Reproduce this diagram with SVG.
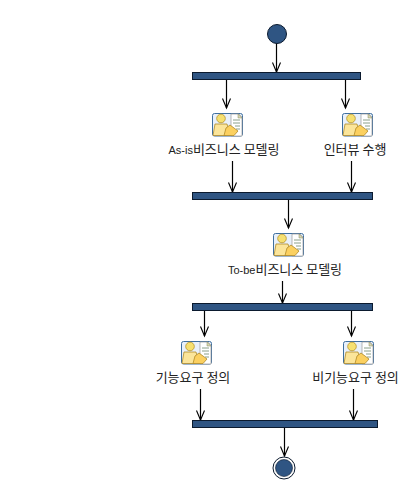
<svg xmlns="http://www.w3.org/2000/svg" width="405" height="501" viewBox="0 0 405 501">
<style>
.bar{fill:#2f5583;stroke:#0b1a2e;stroke-width:1}
.t{font-family:"Noto Sans CJK KR","Liberation Sans",sans-serif;font-size:13px;fill:#222;text-anchor:middle}
.l{font-family:"Liberation Sans",sans-serif;font-size:11px}
.c{fill:none;stroke:#000;stroke-width:1.2}
</style>
<defs>
<marker id="a" markerUnits="userSpaceOnUse" markerWidth="12" markerHeight="12" refX="10.500" refY="6" orient="auto" viewBox="0 0 12 12"><path d="M1 2L10.500 6L1 10" fill="none" stroke="#000" stroke-width="1.100"/></marker>
<symbol id="ic" width="31" height="24" viewBox="0 0 31 24" overflow="visible">
<rect x=".5" y=".5" width="30" height="22.500" rx="2" fill="#e8f0fa" stroke="#3f6f9f"/>
<path d="M19 1H27L30 4V23H19Z" fill="#fff" stroke="#9a9a9a" stroke-width=".7"/>
<path d="M26 1V5H30Z" fill="#d8d8b0" stroke="#8a8a60" stroke-width=".5"/>
<path d="M21 7H28M21 10H28M23 13H28M24 16H28" stroke="#8aa08a" stroke-width="1"/>
<circle cx="9" cy="5.500" r="4.300" fill="#f6e070" stroke="#b89428" stroke-width=".8"/>
<path d="M3 11H15L17 18L14 22.500H1Z" fill="#fbe59a" stroke="#b08a28" stroke-width=".8"/>
<path d="M18 12L26 18L22 22.500H12L14 15Z" fill="#fbd060" stroke="#b08a28" stroke-width=".8"/>
</symbol>
</defs>
<rect width="405" height="501" fill="#fff"/>
<g id="connectors">
<path class="c" marker-end="url(#a)" d="M276.500 43V72"/>
<path class="c" marker-end="url(#a)" d="M226.500 79.500V108"/>
<path class="c" marker-end="url(#a)" d="M345.500 79.500V108"/>
<path class="c" marker-end="url(#a)" d="M232.500 161V192"/>
<path class="c" marker-end="url(#a)" d="M351.500 161V192"/>
<path class="c" marker-end="url(#a)" d="M288.500 199.500V228"/>
<path class="c" marker-end="url(#a)" d="M282.500 281V303"/>
<path class="c" marker-end="url(#a)" d="M204.500 310.500V336"/>
<path class="c" marker-end="url(#a)" d="M351.500 310.500V336"/>
<path class="c" marker-end="url(#a)" d="M200.500 389V420"/>
<path class="c" marker-end="url(#a)" d="M353.500 389V420"/>
<path class="c" marker-end="url(#a)" d="M284.500 427.500V456"/>
</g>
<g id="start"><circle cx="277" cy="34" r="9.500" fill="#2f5583" stroke="#0b1a2e"/></g>
<g id="fork1"><rect class="bar" x="192.500" y="72.500" width="168" height="7"/></g>
<g id="asis"><use href="#ic" x="212" y="113"/><text class="t" x="224" y="154"><tspan class="l">As-is</tspan>비즈니스 모델링</text></g>
<g id="interview"><use href="#ic" x="342" y="113"/><text class="t" x="355" y="154">인터뷰 수행</text></g>
<g id="join1"><rect class="bar" x="192.500" y="192.500" width="180" height="7"/></g>
<g id="tobe"><use href="#ic" x="273" y="233"/><text class="t" x="285" y="274"><tspan class="l">To-be</tspan>비즈니스 모델링</text></g>
<g id="fork2"><rect class="bar" x="192.500" y="303.500" width="180" height="7"/></g>
<g id="func"><use href="#ic" x="181" y="341"/><text class="t" x="193" y="382">기능요구 정의</text></g>
<g id="nonfunc"><use href="#ic" x="343" y="341"/><text class="t" x="355.500" y="382">비기능요구 정의</text></g>
<g id="join2"><rect class="bar" x="192.500" y="420.500" width="185" height="7"/></g>
<g id="end"><circle cx="284" cy="468" r="11" fill="#fff" stroke="#0b1a2e"/><circle cx="284" cy="468" r="8.500" fill="#2f5583" stroke="#0b1a2e" stroke-width=".6"/></g>
</svg>
